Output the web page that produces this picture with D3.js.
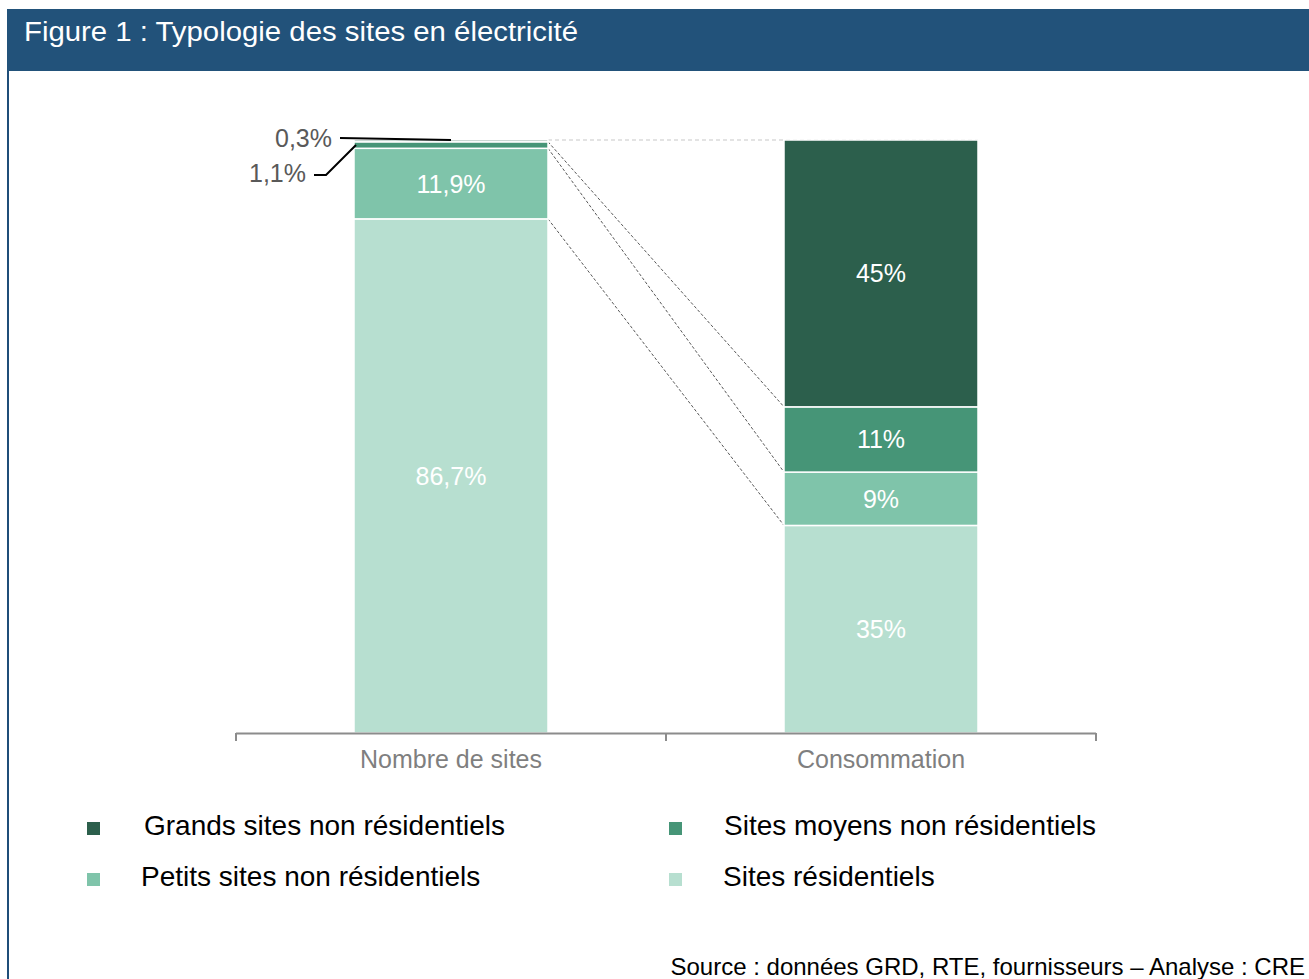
<!DOCTYPE html>
<html><head><meta charset="utf-8">
<script src="https://cdn.jsdelivr.net/npm/d3@7"></script>
<style>body{margin:0;background:#fff;}svg{display:block;font-family:"Liberation Sans",Arial,sans-serif;}</style>
</head><body>
<svg id="c" width="1309" height="979"></svg>
<script>
const title = "Figure 1 : Typologie des sites en électricité";
const categories = ["Nombre de sites", "Consommation"];
const seriesNames = ["Sites résidentiels", "Petits sites non résidentiels", "Sites moyens non résidentiels", "Grands sites non résidentiels"];
const nombreSites = [86.7, 11.9, 1.1, 0.3];
const consommation = [35, 9, 11, 45];
const labelsNombre = ["86,7%", "11,9%", "1,1%", "0,3%"];
const labelsConso = ["35%", "9%", "11%", "45%"];
const colors = ["#b7dfd0", "#7fc4aa", "#469577", "#2c5f4c"];
const source = "Source : données GRD, RTE, fournisseurs – Analyse : CRE";

const svg = d3.select("#c");
// header + frame
svg.append("rect").attr("x",7).attr("y",9).attr("width",1302).attr("height",62).attr("fill","#22527a");
svg.append("rect").attr("x",7).attr("y",71).attr("width",2).attr("height",908).attr("fill","#1f4e79");
svg.append("text").attr("x",24).attr("y",41).attr("fill","#fff").attr("font-size",27).attr("textLength",554).attr("lengthAdjust","spacingAndGlyphs").text(title);

const x = d3.scaleBand().domain(categories).range([236,1096]).paddingInner(0).paddingOuter(0);
const y = d3.scaleLinear().domain([0,100]).range([733,140]);
const bw = 194;
const data = [nombreSites, consommation];
const labs = [labelsNombre, labelsConso];

const stacks = data.map(vals => { let c=0; return vals.map(v => { const s={y0:c,y1:c+v,v}; c+=v; return s; }); });
const bx = c => x(c) + x.bandwidth()/2 - bw/2;

// connecting dashed lines
const g0 = svg.append("g");
const L = stacks[0], R = stacks[1];
g0.append("line").attr("x1",bx(categories[0])+bw).attr("y1",y(100)).attr("x2",bx(categories[1])+bw).attr("y2",y(100))
  .attr("stroke","#c8c8c8").attr("stroke-width",1.2).attr("stroke-dasharray","4,3");
[0,1,2].forEach(i => {
  g0.append("line").attr("x1",bx(categories[0])+bw).attr("y1",y(L[i].y1)).attr("x2",bx(categories[1])).attr("y2",y(R[i].y1))
    .attr("stroke","#444").attr("stroke-width",0.9).attr("stroke-dasharray","3,2");
});

categories.forEach((c,ci) => {
  const g = svg.append("g");
  stacks[ci].forEach((s,i) => {
    g.append("rect").attr("x",bx(c)).attr("y",y(s.y1)).attr("width",bw).attr("height",y(s.y0)-y(s.y1))
      .attr("fill",colors[i]).attr("stroke","#fff").attr("stroke-width",1.5);
    if (s.v > 5) {
      g.append("text").attr("x",bx(c)+bw/2).attr("y",(y(s.y0)+y(s.y1))/2+9).attr("text-anchor","middle")
        .attr("fill","#fff").attr("font-size",25).text(labs[ci][i]);
    }
  });
});

// callouts for small values
const cx = bx(categories[0]);
svg.append("text").attr("x",332).attr("y",147).attr("text-anchor","end").attr("fill","#595959").attr("font-size",25).text(labelsNombre[3]);
svg.append("path").attr("d",`M340,138 L${cx+bw/2},${y(100)}`).attr("stroke","#000").attr("stroke-width",2).attr("fill","none");
svg.append("text").attr("x",306).attr("y",182).attr("text-anchor","end").attr("fill","#595959").attr("font-size",25).text(labelsNombre[2]);
svg.append("path").attr("d",`M314,175 L326,175 L${cx+2},${(y(L[2].y0)+y(L[2].y1))/2}`).attr("stroke","#000").attr("stroke-width",2).attr("fill","none");

// axis
const ax = svg.append("g");
ax.append("line").attr("x1",236).attr("x2",1096).attr("y1",733.5).attr("y2",733.5).attr("stroke","#8c8c8c").attr("stroke-width",2);
[236,666,1096].forEach(t => ax.append("line").attr("x1",t).attr("x2",t).attr("y1",733).attr("y2",741).attr("stroke","#8c8c8c").attr("stroke-width",2));
categories.forEach(c => ax.append("text").attr("x",x(c)+x.bandwidth()/2).attr("y",768).attr("text-anchor","middle")
  .attr("fill","#7f7f7f").attr("font-size",25).text(c));

// legend
const legendItems = [
  {name:seriesNames[3], color:colors[3], mx:87, tx:144, y:822},
  {name:seriesNames[2], color:colors[2], mx:669, tx:724, y:822},
  {name:seriesNames[1], color:colors[1], mx:87, tx:141, y:873},
  {name:seriesNames[0], color:colors[0], mx:669, tx:723, y:873}
];
legendItems.forEach(d => {
  svg.append("rect").attr("x",d.mx).attr("y",d.y).attr("width",13).attr("height",13).attr("fill",d.color);
  svg.append("text").attr("x",d.tx).attr("y",d.y+13).attr("fill","#000").attr("font-size",28).text(d.name);
});

svg.append("text").attr("x",1305).attr("y",975).attr("text-anchor","end").attr("fill","#000").attr("font-size",24).text(source);
</script>
</body></html>
